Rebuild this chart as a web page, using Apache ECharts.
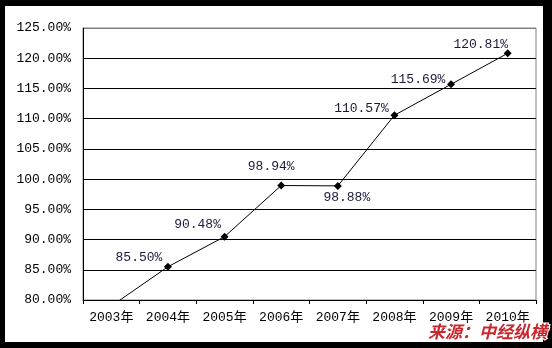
<!DOCTYPE html>
<html>
<head>
<meta charset="utf-8">
<script src="https://cdn.jsdelivr.net/npm/echarts@6/dist/echarts.min.js"></script>
<style>
  html, body { margin: 0; padding: 0; background: #000; }
  #chart { width: 552px; height: 348px; }
</style>
</head>
<body>
<div id="chart"></div>
<script>
const years = ['2003年', '2004年', '2005年', '2006年', '2007年', '2008年', '2009年', '2010年']
const rates = [79.0, 85.50, 90.48, 98.94, 98.88, 110.57, 115.69, 120.81]
const yMin = 80
const yMax = 125
const yStep = 5
const sourceText = '来源：中经纵横'

// where each value label sits relative to its point
const labelOffsets = [[0, 0], [-29, -9], [-27, -12], [-10, -19], [9, 12], [-33, -7], [-33, -5], [-27, -9]]

const font = '"Liberation Mono", "Noto Sans CJK SC", monospace'

const chart = echarts.init(document.getElementById('chart'))

const seriesData = rates.map((v, i) => {
  if (v < yMin) {
    return { value: v, symbol: 'none', label: { show: false } }
  }
  return { value: v, label: { offset: labelOffsets[i] } }
})

const gridColors = []
for (let v = yMin; v <= yMax; v += yStep) {
  gridColors.push(v === yMax ? '#808080' : '#000')
}

chart.setOption({
  animation: false,
  backgroundColor: '#000',
  graphic: [
    {
      type: 'rect',
      z: -10,
      shape: { x: 5, y: 6, width: 538, height: 336 },
      style: { fill: '#fff' }
    },
    {
      type: 'text',
      right: 4,
      bottom: 7,
      z: 10,
      style: {
        text: sourceText,
        fill: '#c8282d',
        stroke: '#fff',
        lineWidth: 2,
        font: 'italic bold 17px "Noto Sans CJK SC"'
      }
    }
  ],
  grid: {
    left: 83,
    top: 28,
    right: 16,
    bottom: 48,
    show: true,
    borderColor: '#808080',
    borderWidth: 1
  },
  xAxis: {
    type: 'category',
    data: years,
    boundaryGap: true,
    axisLine: { lineStyle: { color: '#000', width: 1 } },
    axisTick: { show: true, interval: 0, length: 4, lineStyle: { color: '#000' } },
    axisLabel: { interval: 0, color: '#000', fontFamily: font, fontSize: 13, margin: 11 }
  },
  yAxis: {
    type: 'value',
    min: yMin,
    max: yMax,
    interval: yStep,
    axisLine: { show: true, lineStyle: { color: '#000', width: 1 } },
    axisTick: { show: false },
    axisLabel: {
      color: '#000',
      fontFamily: font,
      fontSize: 13,
      margin: 12,
      formatter: v => v.toFixed(2) + '%'
    },
    splitLine: { show: true, lineStyle: { color: gridColors, width: 1 } }
  },
  series: [
    {
      type: 'line',
      data: seriesData,
      clip: true,
      symbol: 'diamond',
      symbolSize: 8,
      itemStyle: { color: '#000' },
      lineStyle: { color: '#000', width: 1 },
      label: {
        show: true,
        position: 'inside',
        color: '#1a1a3a',
        fontFamily: font,
        fontSize: 13,
        formatter: p => p.value.toFixed(2) + '%'
      }
    }
  ]
})
</script>
</body>
</html>
